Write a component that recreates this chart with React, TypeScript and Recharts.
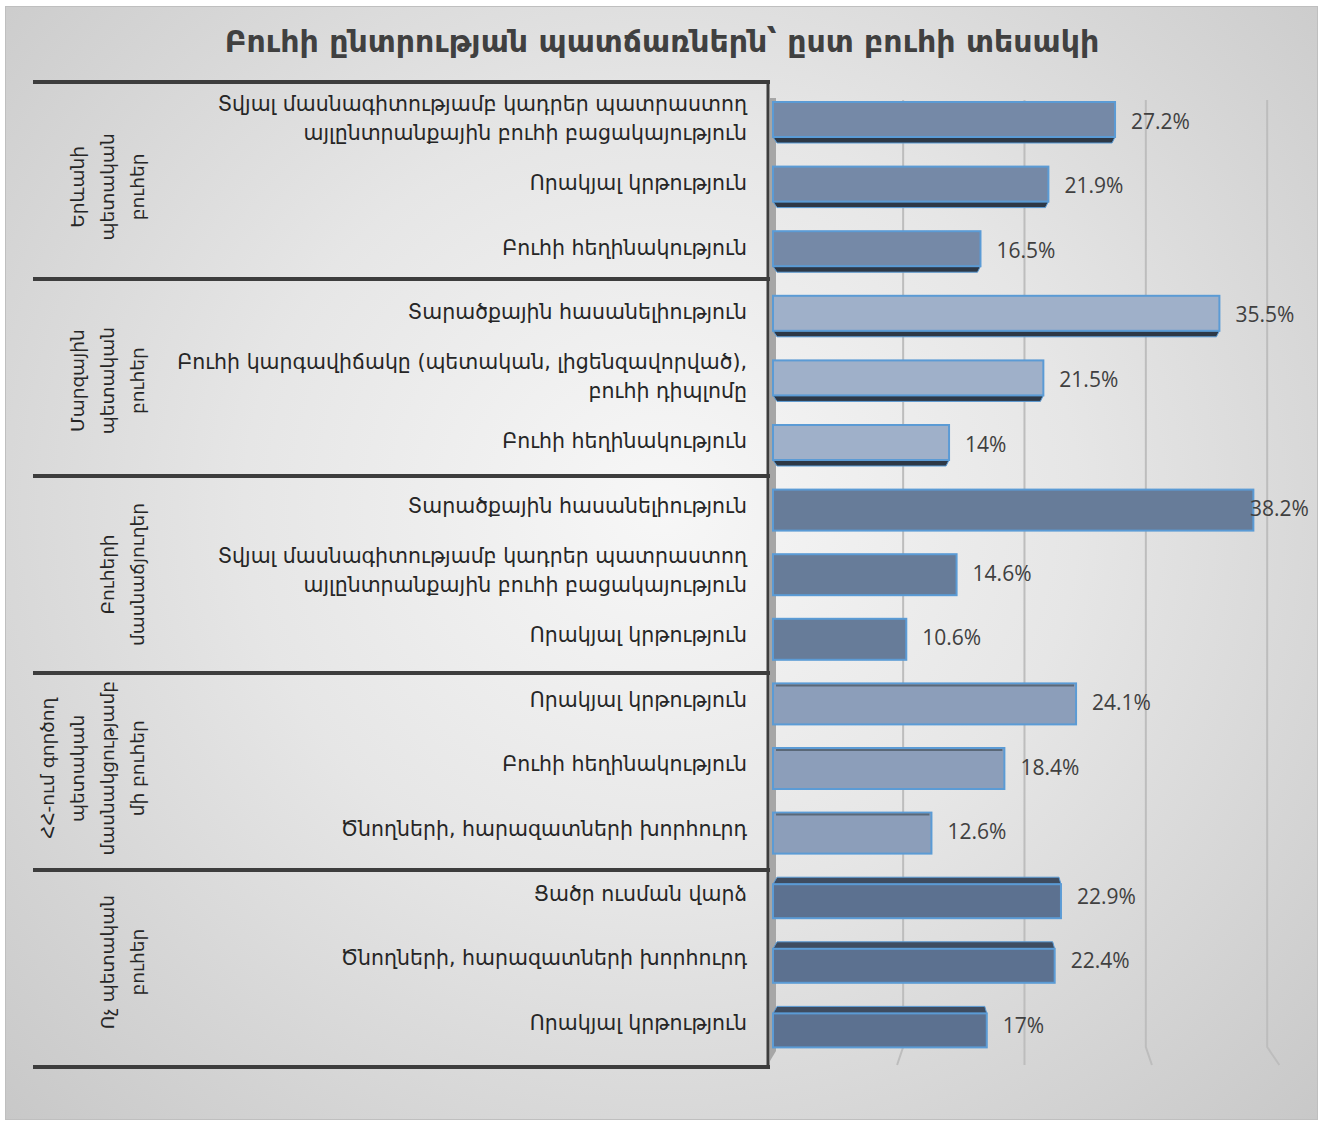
import React from 'react'
import { BarChart, Bar, XAxis, YAxis, CartesianGrid, LabelList } from 'recharts'

const title = 'Բուհի ընտրության պատճառներն՝ ըստ բուհի տեսակի'

const groupNames = [
  ['Երևանի', 'պետական', 'բուհեր'],
  ['Մարզային', 'պետական', 'բուհեր'],
  ['Բուհերի', 'մասնաճյուղեր'],
  ['ՀՀ-ում գործող', 'պետական', 'մասնակցությամբ', 'մի բուհեր'],
  ['Ոչ պետական', 'բուհեր'],
]

const reasons = [
  'Տվյալ մասնագիտությամբ կադրեր պատրաստող\nայլընտրանքային բուհի բացակայություն',
  'Որակյալ կրթություն',
  'Բուհի հեղինակություն',
  'Տարածքային հասանելիություն',
  'Բուհի կարգավիճակը (պետական, լիցենզավորված),\nբուհի դիպլոմը',
  'Բուհի հեղինակություն',
  'Տարածքային հասանելիություն',
  'Տվյալ մասնագիտությամբ կադրեր պատրաստող\nայլընտրանքային բուհի բացակայություն',
  'Որակյալ կրթություն',
  'Որակյալ կրթություն',
  'Բուհի հեղինակություն',
  'Ծնողների, հարազատների խորհուրդ',
  'Ցածր ուսման վարձ',
  'Ծնողների, հարազատների խորհուրդ',
  'Որակյալ կրթություն',
]

const groupOf = [0, 0, 0, 1, 1, 1, 2, 2, 2, 3, 3, 3, 4, 4, 4]

const values = [27.2, 21.9, 16.5, 35.5, 21.5, 14, 38.2, 14.6, 10.6, 24.1, 18.4, 12.6, 22.9, 22.4, 17]

const xTicks = [0, 10, 20, 30, 40]

const data = reasons.map((reason, i) => ({ id: String(i), reason, group: groupOf[i], value: values[i] }))

const W = 1324
const H = 1124
const TOP = 90
const BOTTOM = 65
const ROW = (H - TOP - BOTTOM) / reasons.length
const MID = (TOP + H - BOTTOM) / 2
const ARM = '"DejaVu Sans", sans-serif'
const FS = 20.5

const faceColors = ['#7589a7', '#9fb0c9', '#677c99', '#8c9eba', '#5c7190']
const outline = '#5b9bd5'

// the category box lines sit a little outside the bar rows
const boxY = (v: number) => MID + (v - MID) * 1.0165

function BarShape(props: any) {
  const { x, y, width, height, payload } = props
  const g = payload.group
  const face = faceColors[g]
  if (g === 0 || g === 1) {
    const fh = height - 6
    return (
      <g>
        <polygon
          points={`${x},${y + fh} ${x + width},${y + fh} ${x + width - 3},${y + height} ${x + 4},${y + height}`}
          fill="#2d3846"
          stroke={outline}
          strokeWidth={1}
        />
        <rect x={x} y={y} width={width} height={fh} fill={face} stroke={outline} strokeWidth={2} />
      </g>
    )
  }
  if (g === 4) {
    return (
      <g>
        <polygon
          points={`${x + 4},${y} ${x + width - 2},${y} ${x + width},${y + 7} ${x},${y + 7}`}
          fill="#3e4c60"
          stroke={outline}
          strokeWidth={1}
        />
        <rect x={x} y={y + 7} width={width} height={height - 7} fill={face} stroke={outline} strokeWidth={2} />
      </g>
    )
  }
  if (g === 3) {
    return (
      <g>
        <rect x={x} y={y} width={width} height={height} fill={face} stroke={outline} strokeWidth={2} />
        <line x1={x + 3} x2={x + width - 2} y1={y + 2} y2={y + 2} stroke="#5a6878" strokeWidth={2} />
      </g>
    )
  }
  return <rect x={x} y={y} width={width} height={height} fill={face} stroke={outline} strokeWidth={2} />
}

function CategoryTick(props: any) {
  const { y, payload } = props
  const i = Number(payload.value)
  const item = data[i]
  const lines = item.reason.split('\n')
  const lh = 29
  const startY = y - 4 - ((lines.length - 1) * lh) / 2
  const isMid = i % 3 === 1
  const isLast = i === reasons.length - 1
  const gTop = boxY(y - ROW / 2)
  const gBottom = boxY(y - ROW / 2 + ROW * 3)
  const names = isMid ? groupNames[item.group] : []
  return (
    <g>
      {i % 3 === 0 && (
        <>
          <line x1={33} x2={770} y1={gTop} y2={gTop} stroke="#3d3d3d" strokeWidth={4} />
          <line x1={768} x2={768} y1={gTop} y2={gBottom} stroke="#3d3d3d" strokeWidth={3} />
        </>
      )}
      {isLast && (
        <line x1={33} x2={770} y1={boxY(y + ROW / 2)} y2={boxY(y + ROW / 2)} stroke="#3d3d3d" strokeWidth={4} />
      )}
      {names.map((n: string, k: number) => (
        <text
          key={k}
          transform={`translate(${137 - (names.length - 1 - k) * 30}, ${y}) rotate(-90)`}
          textAnchor="middle"
          dominantBaseline="central"
          fontFamily={ARM}
          fontSize={18.5}
          fill="#262626"
        >
          {n}
        </text>
      ))}
      {lines.map((l: string, k: number) => (
        <text
          key={'r' + k}
          x={747}
          y={startY + k * lh}
          textAnchor="end"
          dominantBaseline="central"
          fontFamily={ARM}
          fontSize={FS}
          fill="#262626"
        >
          {l}
        </text>
      ))}
    </g>
  )
}

function GridLine(props: any) {
  const { x1, y1, y2 } = props
  if (x1 < 790) {
    // side wall of the 3d plot
    return (
      <path
        d={`M${x1 - 3},${y1 + 8} L${x1 + 3},${y1 + 8} L${x1 + 3},${y2 - 8} L${x1 - 3},${y2 + 2} Z`}
        fill="#a6a6a6"
      />
    )
  }
  const bx = 1024 + (x1 - 1024) * 0.965
  const slant = (bx - 1024) * 0.05
  return (
    <path
      d={`M${bx},${y1 + 10} L${bx},${y2 - 12} L${bx + slant},${y2 + 6}`}
      fill="none"
      stroke="#bdbdbd"
      strokeWidth={2}
    />
  )
}

function ValueLabel(props: any) {
  const { x, y, width, height, value } = props
  const text = `${value}%`
  const tx = Math.min(x + width + 16, 1250)
  return (
    <text
      x={tx}
      y={y + height / 2 - 2}
      dominantBaseline="central"
      fill="#404040"
      fontSize={21}
      fontFamily='"Open Sans", sans-serif'
    >
      {text}
    </text>
  )
}

export default function App() {
  return (
    <div style={{ position: 'relative', width: W, height: H }}>
      <style>{'body{margin:0}'}</style>
      <div
        style={{
          position: 'absolute',
          left: 5,
          top: 6,
          width: 1313,
          height: 1114,
          boxSizing: 'border-box',
          border: '1px solid #bfbfbf',
          background: 'radial-gradient(ellipse at 50% 45%, #f7f7f7 0%, #e6e6e6 45%, #c8c8c8 100%)',
        }}
      />
      <div
        style={{
          position: 'absolute',
          left: 0,
          top: 24,
          width: W,
          textAlign: 'center',
          fontFamily: ARM,
          fontWeight: 'bold',
          fontSize: 30,
          color: '#404040',
        }}
      >
        {title}
      </div>
      <div style={{ position: 'absolute', left: 0, top: 0 }}>
        <BarChart
          width={W}
          height={H}
          data={data}
          layout="vertical"
          margin={{ top: TOP, right: 48, bottom: BOTTOM, left: 0 }}
          barSize={41}
        >
          <CartesianGrid horizontal={false} vertical={GridLine} />
          <XAxis type="number" domain={[0, 40]} ticks={xTicks} hide />
          <YAxis
            type="category"
            dataKey="id"
            width={773}
            interval={0}
            axisLine={false}
            tickLine={false}
            tick={CategoryTick}
          />
          <Bar dataKey="value" shape={BarShape} isAnimationActive={false}>
            <LabelList dataKey="value" content={ValueLabel} />
          </Bar>
        </BarChart>
      </div>
    </div>
  )
}
